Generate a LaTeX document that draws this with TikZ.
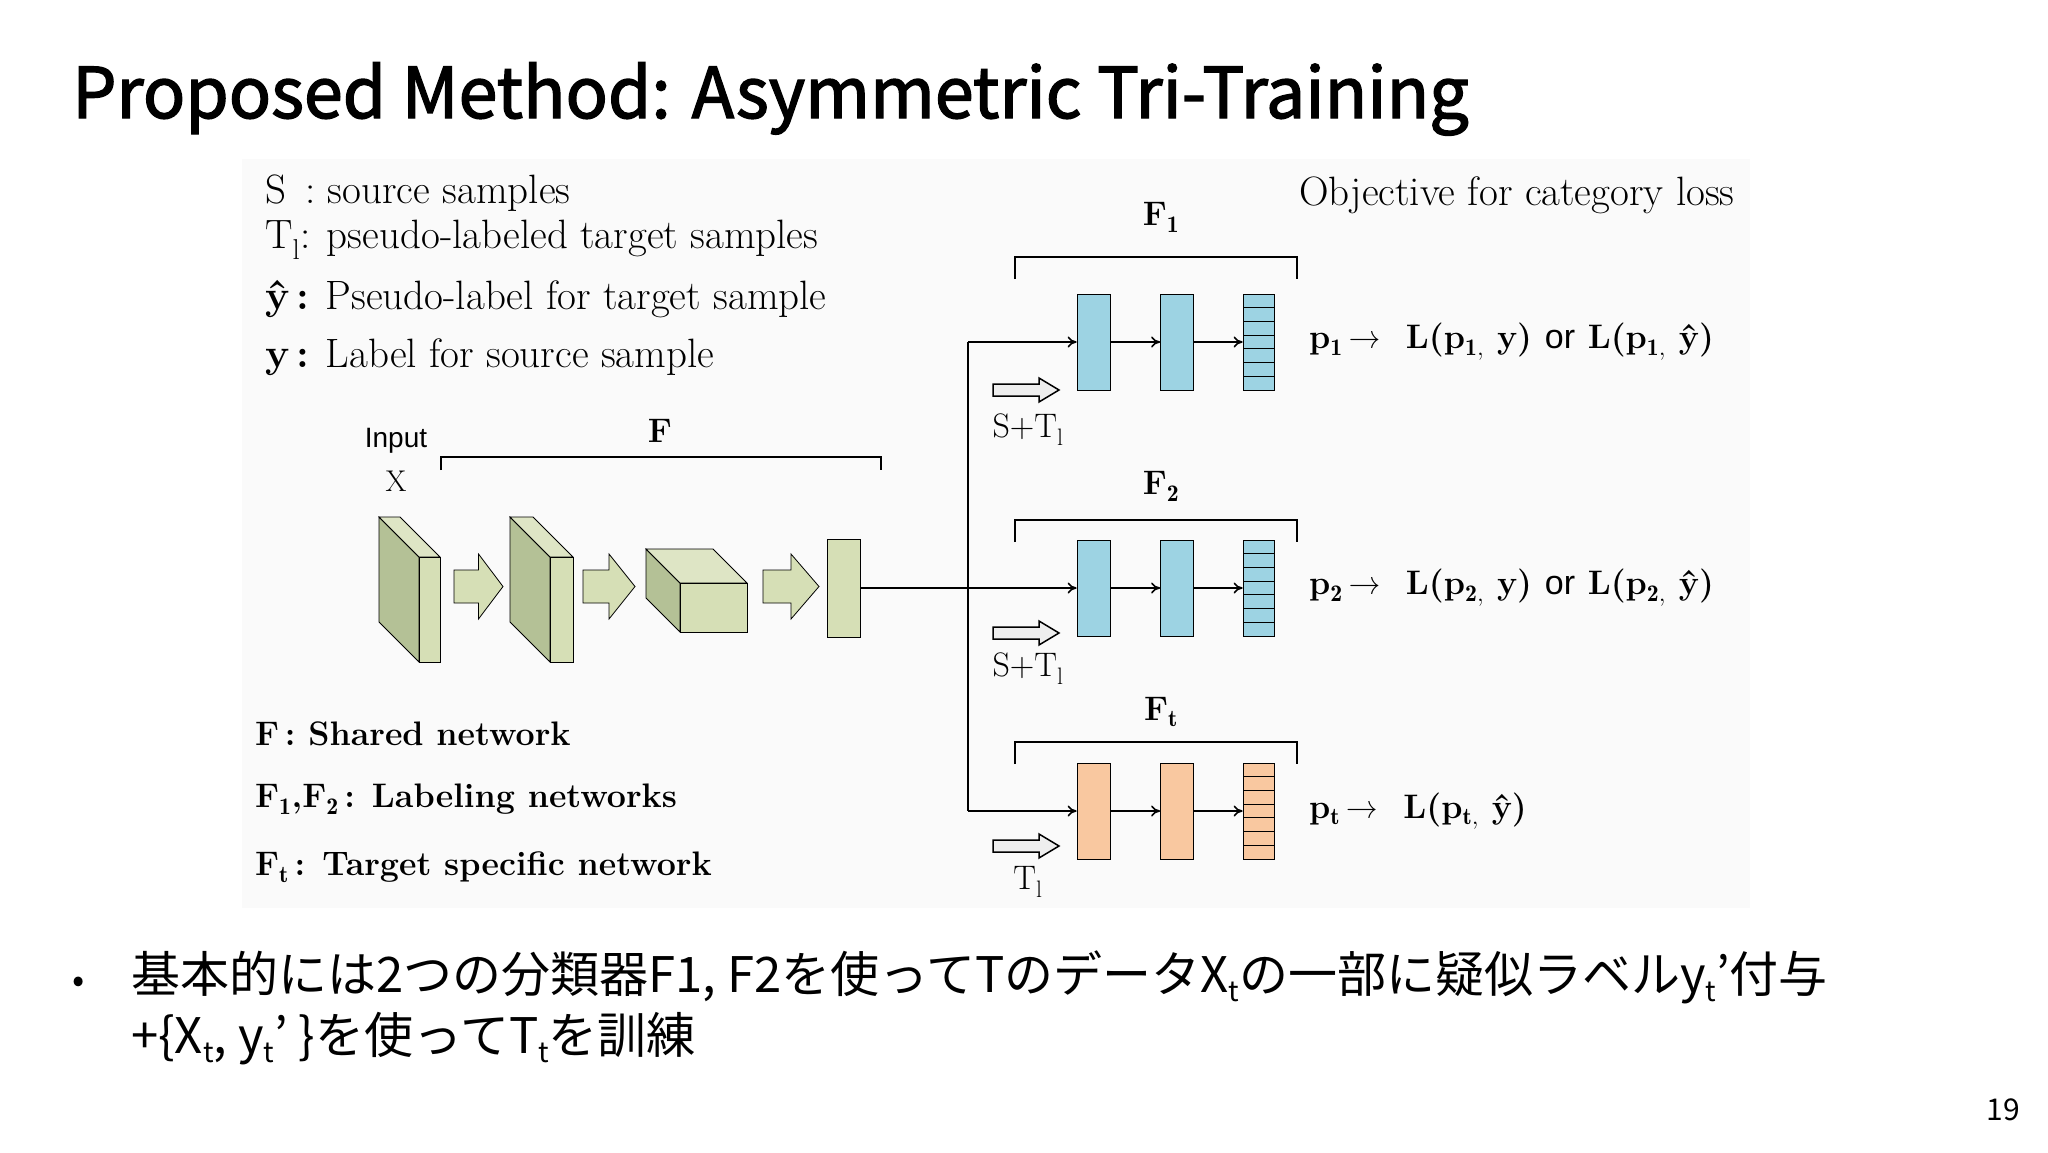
\documentclass[tikz,border=0pt]{standalone}
\usepackage{fontspec}
\newfontfamily\cjk{Noto Sans CJK JP}
\newfontfamily\titlefont[FakeBold=2]{Noto Sans CJK JP}
\newfontfamily\sansf{Liberation Sans}
\usetikzlibrary{arrows.meta}
\definecolor{gfront}{HTML}{D6DFB6}
\definecolor{gside}{HTML}{B4C196}
\definecolor{bluef}{HTML}{9DD3E3}
\definecolor{orangef}{HTML}{F9C8A0}
\definecolor{hollow}{HTML}{EEEEEE}
\newcommand{\slab}[6]{% x1 y1 x2 y2 dx dy
  \draw[thick,fill=gside] (#1,#2)--(#1,#4)--(#1+#5,#4+#6)--(#1+#5,#2+#6)--cycle;
  \draw[thick,fill=gfront!80!white] (#1,#2)--(#3,#2)--(#3+#5,#2+#6)--(#1+#5,#2+#6)--cycle;
  \draw[thick,fill=gfront] (#1,#2) rectangle (#3,#4);}
\newcommand{\fatarrow}[5]{% x1 x2 ybody1 ybody2 headextra
  \draw[thick,fill=gfront] (#1,#3)--({#1+0.5*(#2-#1)},#3)--({#1+0.5*(#2-#1)},#3-#5)--(#2,{(#3+#4)/2})--({#1+0.5*(#2-#1)},#4+#5)--({#1+0.5*(#2-#1)},#4)--(#1,#4)--cycle;}
\newcommand{\hollowarrow}[2]{% x y(center)
  \draw[fill=hollow,line width=1.5pt] (#1,#2-6)--(#1+46,#2-6)--(#1+46,#2-12)--(#1+66,#2)--(#1+46,#2+12)--(#1+46,#2+6)--(#1,#2+6)--cycle;}
\newcommand{\jsub}[1]{\raisebox{-0.35ex}{\fontsize{28}{28}\selectfont #1}}
\begin{document}
\begin{tikzpicture}[x=1pt,y=-1pt,
  lbl/.style={inner sep=0pt,anchor=west,font=\fontsize{41}{46}\selectfont},
  blbl/.style={inner sep=0pt,anchor=west,font=\fontsize{34}{40}\selectfont\bfseries},
  box/.style={draw,thick,minimum width=33pt,minimum height=96pt,inner sep=0pt},
  conn/.style={line width=1.6pt,-{To[length=9pt,width=11pt]}},
  brk/.style={line width=1.8pt}]
\useasboundingbox (0,0) rectangle (2048,1152);
\fill[white] (0,0) rectangle (2048,1152);
\fill[black!2] (242,159) rectangle (1750,908);
% title
\node[inner sep=0pt,anchor=base west,font=\fontsize{70}{74}\selectfont\titlefont] (title) at (72,118) {Proposed Method: Asymmetric Tri-Training};
% legend top
\node[lbl] (l1) at (265,193) {S \,: source samples};
\node[lbl] (l2) at (265,240) {T$_\mathrm{l}$: pseudo-labeled target samples};
\node[lbl] (l3) at (265,299) {\textbf{ŷ\,:} Pseudo-label for target sample};
\node[lbl] (l4) at (265,357) {\textbf{y\,:} Label for source sample};
% legend bottom
\node[blbl] (b1) at (255,734) {F\,: Shared network};
\node[blbl] (b2) at (255,799) {F$_{\mathbf 1}$,F$_{\mathbf 2}$\,: Labeling networks};
\node[blbl] (b3) at (255,867) {F$_{\mathbf t}$\,: Target specific network};
% input and F
\node[inner sep=0pt,font=\fontsize{28}{30}\sansf] (inp) at (396,441) {Input};
\node[inner sep=0pt,font=\fontsize{30}{30}\selectfont] (xin) at (396,481) {X};
\draw[brk] (441,470)--(441,457)--(881,457)--(881,470);
\node[inner sep=0pt,font=\fontsize{34}{34}\selectfont\bfseries] (flab) at (660,431) {F};
% shared network
\slab{419}{557}{440}{662}{-40}{-40}
\fatarrow{454}{503}{570}{603}{16}
\slab{550}{557}{573}{662}{-40}{-40}
\fatarrow{583}{635}{570}{603}{16}
\slab{680}{583}{747}{632}{-34}{-34}
\fatarrow{763}{819}{570}{603}{16}
\node[draw,thick,fill=gfront,minimum width=33pt,minimum height=98pt,inner sep=0pt] (vec) at (843.5,588) {};
% objective
\node[lbl] (obj) at (1299,195) {Objective for category loss};
% rows
\coordinate (tr1) at (968,342);
\coordinate (tr3) at (968,811);
\foreach \r/\y/\col/\by/\fy/\ha/\hl/\fl/\tl in {
  1/342/bluef/257/217/390/430/{F$_{\mathbf 1}$}/{S+T$_\mathrm{l}$},
  2/588/bluef/520/486/633/669/{F$_{\mathbf 2}$}/{S+T$_\mathrm{l}$},
  3/811/orangef/742/712/846/882/{F$_{\mathbf t}$}/{T$_\mathrm{l}$}}{
  \node[box,fill=\col] (a\r) at (1093.5,\y) {};
  \node[box,fill=\col] (b\r) at (1177,\y) {};
  \node[box,fill=\col,minimum width=31pt] (c\r) at (1258.5,\y) {};
  \foreach \k in {1,...,6} \draw[thick] (1243,\y-48+\k*13.7) -- (1274,\y-48+\k*13.7);
  \draw[conn] (a\r) -- (b\r);
  \draw[conn] (b\r) -- (c\r);
  \draw[brk] (1015,\by+22)--(1015,\by)--(1297,\by)--(1297,\by+22);
  \node[inner sep=0pt,font=\fontsize{34}{34}\selectfont\bfseries] (fl\r) at (1161,\fy) {\fl};
  \hollowarrow{993}{\ha}
  \node[inner sep=0pt,font=\fontsize{34}{36}\selectfont] (tl\r) at (1028,\hl) {\tl};
}
\draw[line width=1.6pt] (vec.east) -- (tr3 |- vec.east);
\draw[conn] (vec.east) -- (a2.west);
\draw[line width=1.6pt] (tr1) -- (tr3);
\draw[conn] (tr1) -- (a1.west);
\draw[conn] (tr3) -- (a3.west);
% losses
\node[blbl] (o1) at (1309,342) {p$_{\mathbf 1}$\,\textmd{→}\ \ L(p$_{\mathbf 1,}$ y) {\sansf\mdseries or} L(p$_{\mathbf 1,}$ ŷ)};
\node[blbl] (o2) at (1309,588) {p$_{\mathbf 2}$\,\textmd{→}\ \ L(p$_{\mathbf 2,}$ y) {\sansf\mdseries or} L(p$_{\mathbf 2,}$ ŷ)};
\node[blbl] (o3) at (1309,811) {p$_{\mathbf t}$\,\textmd{→}\ \ L(p$_{\mathbf t,}$ ŷ)};
% bullet text
\node[inner sep=0pt,anchor=base west,font=\fontsize{36}{40}\cjk] (bul) at (72,992) {•};
\node[inner sep=0pt,anchor=base west,font=\fontsize{49}{52}\cjk] (j1) at (131,992) {基本的には2つの分類器F1, F2を使ってTのデータX\jsub{t}の一部に疑似ラベルy\jsub{t}’付与};
\node[inner sep=0pt,anchor=base west,font=\fontsize{49}{52}\cjk] (j2) at (131,1053) {+\{X\jsub{t}, y\jsub{t}’ \}を使ってT\jsub{t}を訓練};
\node[inner sep=0pt,anchor=base east,font=\fontsize{30}{30}\cjk] (pg) at (2020,1120) {19};
\end{tikzpicture}
\end{document}
